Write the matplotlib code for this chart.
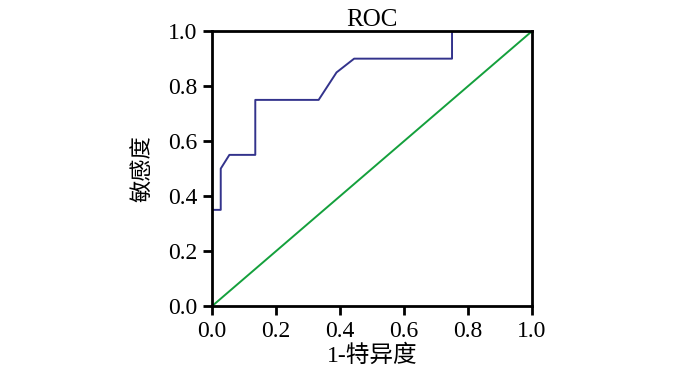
import matplotlib
matplotlib.use('Agg')
import matplotlib.pyplot as plt

plt.rcParams['font.family'] = ['Liberation Serif', 'Noto Sans CJK SC']

# ROC curve points
fpr = [0.0, 0.027, 0.027, 0.054, 0.135, 0.135, 0.333, 0.389, 0.444, 0.75, 0.75]
tpr = [0.35, 0.35, 0.50, 0.55, 0.55, 0.75, 0.75, 0.85, 0.90, 0.90, 1.0]
ref_line = [0.0, 1.0]
ticks = [0.0, 0.2, 0.4, 0.6, 0.8, 1.0]

fig = plt.figure(figsize=(7, 3.71), dpi=100)
ax = fig.add_axes([0.303, 0.175, 0.457, 0.741])

ax.plot(fpr, tpr, color='#33338c', linewidth=1.4)
ax.plot(ref_line, ref_line, color='#14a03c', linewidth=1.4)

ax.set_xlim(0, 1)
ax.set_ylim(0, 1)
ax.set_xticks(ticks)
ax.set_yticks(ticks)
ax.set_xticklabels([f'{t:.1f}' for t in ticks])
ax.set_yticklabels([f'{t:.1f}' for t in ticks])
ax.tick_params(direction='out', length=6.5, width=2, labelsize=17, pad=4)
for s in ax.spines.values():
    s.set_linewidth(2)

ax.set_title('ROC', fontsize=18, pad=2)
ax.set_xlabel('1-特异度', fontsize=17, labelpad=2)
ax.set_ylabel('敏感度', fontsize=16, labelpad=10)

fig.savefig('out.png', dpi=100)
